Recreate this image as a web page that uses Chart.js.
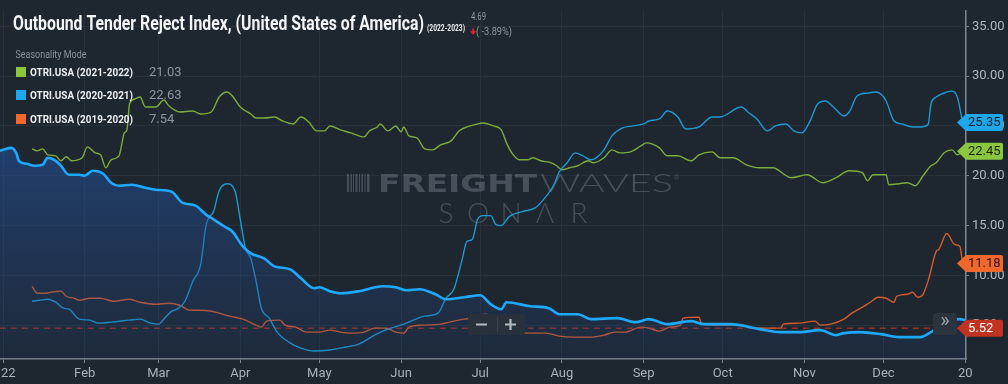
<!DOCTYPE html>
<html>
<head>
<meta charset="utf-8">
<script src="https://cdn.jsdelivr.net/npm/chart.js@4.4.0/dist/chart.umd.min.js"></script>
<style>
  html, body { margin: 0; padding: 0; background: #1e2630; }
  #wrap { width: 1008px; height: 384px; }
</style>
</head>
<body>
<div id="wrap"><canvas id="myChart" width="1008" height="384"></canvas></div>
<script>
// day of year (0 = Jan 1) -> index value
const mainDays = [-1.2, 3, 5, 6, 9, 12, 15, 17, 20, 22, 25, 29, 31, 34, 38, 41, 44, 49, 54, 58, 64, 68, 73, 77, 80, 84, 87, 91, 94, 99, 103, 109, 113, 118, 120, 124, 128, 135, 144, 149, 153, 158, 164, 168, 175, 181, 185, 189, 191, 200, 207, 211, 218, 223, 233, 240, 245, 252, 261, 266, 276, 287, 295, 302, 310, 316, 319, 325, 333, 340, 348, 352, 357, 363, 365];
const mainVals = [22.5, 22.8, 22.3, 21.5, 21.2, 21.0, 21.1, 21.8, 21.5, 21.0, 20.1, 20.1, 20.0, 20.5, 20.2, 19.3, 19.0, 19.1, 18.8, 18.6, 18.4, 17.3, 17.0, 16.1, 15.6, 14.9, 14.4, 12.9, 12.2, 11.7, 10.9, 10.6, 9.7, 8.7, 8.8, 8.4, 8.2, 8.4, 8.9, 8.8, 8.5, 8.6, 8.1, 7.6, 7.8, 8.0, 7.1, 6.6, 7.3, 6.9, 6.7, 6.1, 6.1, 5.6, 5.7, 5.3, 5.6, 5.1, 5.4, 5.1, 5.1, 4.6, 4.3, 4.3, 4.5, 4.0, 4.2, 4.3, 4.1, 3.8, 3.8, 4.3, 5.2, 5.6, 5.5];

const s2122Days = [11, 13, 15, 17, 20, 22, 24, 26, 30, 32, 35, 37, 39, 41, 44, 45, 46, 47, 48, 50, 52, 54, 56, 58, 61, 63, 67, 72, 75, 79, 82, 85, 87, 90, 94, 96, 99, 103, 106, 110, 113, 116, 119, 122, 124, 128, 132, 137, 139, 142, 143, 146, 149, 151, 152, 154, 157, 160, 163, 166, 170, 173, 176, 180, 182, 186, 189, 191, 193, 196, 199, 201, 204, 208, 210, 212, 215, 218, 222, 224, 228, 231, 234, 238, 242, 244, 249, 252, 256, 261, 264, 269, 272, 277, 282, 287, 292, 299, 305, 311, 316, 321, 326, 328, 330, 335, 336, 340, 343, 346, 349, 352, 354, 357, 360, 362, 364];
const s2122Vals = [22.7, 22.5, 22.7, 22.1, 22.0, 21.5, 21.9, 21.5, 21.8, 22.9, 22.3, 22.1, 20.8, 21.6, 22.0, 23.1, 24.3, 24.6, 27.2, 27.7, 27.9, 26.9, 26.9, 26.9, 27.6, 27.0, 26.4, 26.5, 26.2, 26.4, 27.9, 28.4, 28.0, 26.9, 26.2, 25.8, 25.8, 25.9, 25.5, 25.2, 25.9, 25.4, 24.5, 24.5, 25.0, 24.6, 24.3, 23.9, 24.5, 24.9, 25.2, 24.5, 25.0, 24.4, 24.9, 24.0, 23.8, 22.7, 22.6, 23.1, 23.5, 24.5, 24.9, 25.2, 25.3, 25.0, 24.6, 23.3, 22.3, 21.6, 21.6, 21.8, 21.5, 21.3, 21.0, 20.6, 20.8, 21.0, 21.5, 21.3, 21.8, 22.6, 22.3, 22.4, 23.0, 23.3, 22.8, 22.0, 22.0, 21.5, 22.1, 22.4, 21.8, 21.8, 21.1, 20.8, 20.8, 19.8, 20.1, 19.3, 19.8, 20.5, 20.3, 19.5, 20.1, 20.1, 19.1, 19.2, 19.3, 19.0, 20.0, 21.0, 21.3, 22.3, 22.6, 22.1, 22.45];

const s2021Days = [11, 14, 17, 20, 23, 25, 29, 33, 36, 41, 48, 52, 56, 59, 61, 64, 66, 69, 72, 75, 77, 80, 82, 85, 88, 90, 92, 94, 96, 98, 101, 104, 109, 113, 118, 124, 130, 135, 141, 145, 152, 160, 165, 168, 171, 174, 176, 178, 180, 182, 185, 187, 189, 192, 197, 202, 205, 209, 211, 214, 217, 220, 223, 225, 228, 231, 235, 239, 243, 245, 249, 252, 256, 259, 264, 269, 272, 280, 283, 286, 290, 293, 297, 300, 303, 306, 309, 312, 315, 319, 321, 324, 328, 331, 333, 335, 338, 341, 345, 348, 351, 352, 354, 358, 360, 362, 364];
const s2021Vals = [7.4, 7.5, 7.6, 7.3, 6.7, 6.6, 5.6, 5.5, 5.2, 5.3, 5.5, 5.6, 5.2, 5.1, 5.6, 6.4, 6.6, 7.4, 9.4, 11.1, 15.0, 16.5, 18.5, 19.2, 18.5, 15.6, 12.7, 11.7, 9.4, 6.7, 5.7, 4.3, 3.2, 2.7, 2.4, 2.5, 2.8, 3.1, 4.0, 4.5, 5.1, 5.9, 6.2, 7.7, 8.6, 11.4, 13.4, 13.6, 15.6, 16.0, 16.0, 15.1, 15.0, 15.9, 16.4, 16.8, 17.6, 19.1, 20.4, 21.3, 22.3, 22.0, 21.6, 21.8, 22.6, 24.0, 24.8, 25.0, 25.2, 25.5, 25.7, 26.5, 25.9, 24.7, 24.9, 25.9, 25.9, 26.9, 26.3, 25.7, 24.5, 25.0, 25.2, 24.5, 24.3, 25.4, 27.2, 27.5, 26.9, 26.0, 26.4, 28.0, 28.3, 28.4, 28.2, 27.5, 25.5, 25.2, 24.9, 24.9, 25.2, 27.2, 27.9, 28.4, 28.5, 27.9, 25.35];

const s1920Days = [11, 13, 16, 18, 22, 24, 27, 29, 33, 37, 42, 48, 52, 58, 63, 67, 71, 75, 79, 82, 86, 91, 96, 98, 100, 105, 107, 111, 115, 120, 124, 128, 132, 137, 141, 145, 149, 152, 154, 159, 166, 171, 175, 178, 183, 187, 192, 199, 206, 211, 217, 223, 228, 232, 236, 242, 245, 249, 253, 257, 258, 264, 265, 272, 280, 285, 291, 295, 296, 302, 308, 310, 314, 319, 322, 326, 329, 332, 335, 338, 339, 343, 345, 347, 349, 351, 354, 355, 358, 361, 363, 364];
const s1920Vals = [8.9, 8.2, 8.2, 8.3, 8.4, 7.9, 7.7, 7.5, 7.7, 7.7, 7.4, 7.6, 7.3, 7.1, 7.2, 7.0, 6.5, 6.5, 6.4, 6.2, 5.9, 5.6, 5.0, 4.8, 5.4, 5.5, 5.0, 4.8, 4.3, 4.3, 4.5, 4.3, 4.2, 4.3, 4.7, 4.7, 4.3, 4.2, 4.8, 5.0, 5.1, 5.4, 5.6, 5.7, 6.1, 5.6, 4.6, 4.2, 4.2, 3.9, 3.8, 3.8, 4.0, 4.3, 4.3, 4.8, 4.7, 4.4, 4.8, 5.0, 5.7, 5.8, 5.1, 5.0, 5.0, 4.7, 4.7, 4.7, 5.1, 5.2, 5.4, 5.0, 5.1, 5.6, 6.2, 6.8, 7.3, 7.8, 7.7, 7.3, 7.9, 8.1, 8.3, 7.8, 8.1, 9.5, 12.4, 12.6, 14.2, 13.1, 12.9, 11.18];

const tickDays = [0, 31, 59, 90, 120, 151, 181, 212, 243, 273, 304, 334, 365];
const tickLabels = ['22', 'Feb', 'Mar', 'Apr', 'May', 'Jun', 'Jul', 'Aug', 'Sep', 'Oct', 'Nov', 'Dec', '20'];
const yTicks = [5, 10, 15, 20, 25, 30, 35];

const legendNames = ['OTRI.USA (2021-2022)', 'OTRI.USA (2020-2021)', 'OTRI.USA (2019-2020)'];
const legendValues = ['21.03', '22.63', '7.54'];
const legendColors = ['#8cc63f', '#1ea7ea', '#f0682c'];

const lastValues = [25.35, 22.45, 11.18];   // 2020-21, 2021-22, 2019-20
const currentValue = 4.69;
const currentLabel = '5.52';

function pts(days, vals) {
  return days.map((d, i) => ({ x: d, y: vals[i] }));
}

// draw text squeezed into a given width
function fitText(ctx, text, x, y, w, font, color) {
  ctx.save();
  ctx.font = font;
  ctx.fillStyle = color;
  ctx.textAlign = 'left';
  ctx.textBaseline = 'alphabetic';
  let m = ctx.measureText(text).width;
  ctx.translate(x, y);
  ctx.scale(w / m, 1);
  ctx.fillText(text, 0, 0);
  ctx.restore();
}

function roundRect(ctx, x, y, w, h, r) {
  ctx.beginPath();
  ctx.moveTo(x + r, y);
  ctx.lineTo(x + w - r, y);
  ctx.quadraticCurveTo(x + w, y, x + w, y + r);
  ctx.lineTo(x + w, y + h - r);
  ctx.quadraticCurveTo(x + w, y + h, x + w - r, y + h);
  ctx.lineTo(x + r, y + h);
  ctx.quadraticCurveTo(x, y + h, x, y + h - r);
  ctx.lineTo(x, y + r);
  ctx.quadraticCurveTo(x, y, x + r, y);
  ctx.closePath();
}

function valueTag(ctx, y, bg, text, fg) {
  ctx.save();
  ctx.fillStyle = bg;
  ctx.beginPath();
  ctx.moveTo(957, y);
  ctx.lineTo(966, y - 8.5);
  ctx.lineTo(1001, y - 8.5);
  ctx.quadraticCurveTo(1003, y - 8.5, 1003, y - 6.5);
  ctx.lineTo(1003, y + 6.5);
  ctx.quadraticCurveTo(1003, y + 8.5, 1001, y + 8.5);
  ctx.lineTo(966, y + 8.5);
  ctx.closePath();
  ctx.fill();
  ctx.fillStyle = fg;
  ctx.font = '13px Roboto';
  ctx.textAlign = 'left';
  ctx.textBaseline = 'middle';
  ctx.fillText(text, 968, y + 0.5);
  ctx.restore();
}

const bgPlugin = {
  id: 'bg',
  beforeDraw(chart) {
    let ctx = chart.ctx;
    ctx.save();
    ctx.fillStyle = '#1e2630';
    ctx.fillRect(0, 0, chart.width, chart.height);
    ctx.restore();
  }
};

const watermarkPlugin = {
  id: 'watermark',
  beforeDatasetsDraw(chart) {
    let ctx = chart.ctx;
    let col = 'rgba(128,138,150,0.42)';
    ctx.save();
    ctx.fillStyle = col;
    // little barcode mark
    let bars = [[347, 2], [350.5, 1.5], [353, 1], [355.5, 2], [359, 1], [361.5, 1.5], [364.5, 1], [367, 2.5]];
    bars.forEach(b => ctx.fillRect(b[0], 174, b[1], 18));
    ctx.restore();
    fitText(ctx, 'FREIGHT', 378, 192, 159, 'bold 25px "DejaVu Sans"', col);
    fitText(ctx, 'WAVES', 540, 192, 133, '300 25px Lato', col);
    fitText(ctx, '®', 674, 180, 5, '7px Roboto', col);
    let letters = ['S', 'O', 'N', 'Λ', 'R'];
    let lx = [446, 478, 511, 545, 579];
    ctx.save();
    ctx.fillStyle = col;
    ctx.font = '300 28px Lato';
    ctx.textAlign = 'center';
    ctx.textBaseline = 'alphabetic';
    letters.forEach((l, i) => ctx.fillText(l, lx[i], 223));
    ctx.restore();
  }
};

const overlayPlugin = {
  id: 'overlay',
  afterDraw(chart) {
    let ctx = chart.ctx;
    let xs = chart.scales.x;
    let ys = chart.scales.y;

    // x axis labels
    ctx.save();
    ctx.font = '13px Roboto';
    ctx.fillStyle = '#a9b1ba';
    ctx.textBaseline = 'middle';
    tickDays.forEach((d, i) => {
      let px = xs.getPixelForValue(d);
      if (i === 0) {
        ctx.textAlign = 'left';
        ctx.fillText(tickLabels[i], 1, 374);
      } else {
        ctx.textAlign = 'center';
        ctx.fillText(tickLabels[i], px, 374);
      }
    });
    ctx.restore();

    // zoom buttons
    ctx.save();
    ctx.fillStyle = '#29323c';
    roundRect(ctx, 468, 314, 57, 21, 3);
    ctx.fill();
    ctx.strokeStyle = '#3a434e';
    ctx.lineWidth = 1;
    ctx.beginPath();
    ctx.moveTo(497.5, 317);
    ctx.lineTo(497.5, 332);
    ctx.stroke();
    ctx.strokeStyle = '#b3b9c0';
    ctx.lineWidth = 2.2;
    ctx.beginPath();
    ctx.moveTo(476, 324.5);
    ctx.lineTo(487, 324.5);
    ctx.moveTo(505, 324.5);
    ctx.lineTo(516, 324.5);
    ctx.moveTo(510.5, 319);
    ctx.lineTo(510.5, 330);
    ctx.stroke();
    ctx.fillStyle = '#2a333e';
    roundRect(ctx, 933, 313, 24, 22, 3);
    ctx.fill();
    ctx.fillStyle = '#9ba3ac';
    ctx.font = '20px Roboto';
    ctx.textAlign = 'center';
    ctx.textBaseline = 'middle';
    ctx.fillText('»', 945, 322);
    ctx.restore();

    // last value tags
    valueTag(ctx, ys.getPixelForValue(lastValues[0]), '#1ea7ea', lastValues[0].toFixed(2), '#0f1d2a');
    valueTag(ctx, ys.getPixelForValue(lastValues[1]), '#8cc63f', lastValues[1].toFixed(2), '#17240e');
    valueTag(ctx, ys.getPixelForValue(lastValues[2]), '#f0682c', lastValues[2].toFixed(2), '#2a130a');
    valueTag(ctx, ys.getPixelForValue(currentValue), '#c13320', currentLabel, '#ffffff');

    // title
    fitText(ctx, 'Outbound Tender Reject Index, (United States of America)', 13, 30, 411, 'bold 21px Roboto', '#f2f4f6');
    fitText(ctx, '(2022-2023)', 427, 31, 38, 'bold 9px Roboto', '#e6e9ec');
    fitText(ctx, currentValue.toFixed(2), 471, 20, 15, '11px Roboto', '#8f98a2');
    fitText(ctx, '( -3.89%)', 476, 35, 36, '11px Roboto', '#8f98a2');
    ctx.save();
    ctx.fillStyle = '#e5232f';
    ctx.fillRect(472.3, 28.5, 1.6, 3);
    ctx.beginPath();
    ctx.moveTo(470.2, 31);
    ctx.lineTo(476, 31);
    ctx.lineTo(473.1, 35);
    ctx.closePath();
    ctx.fill();
    ctx.restore();

    // legend
    fitText(ctx, 'Seasonality Mode', 15.5, 58, 71, '10px Roboto', '#8b949e');
    let rowsY = [72, 95, 119];
    legendNames.forEach((n, i) => {
      let cy = rowsY[i];
      ctx.save();
      ctx.fillStyle = legendColors[i];
      ctx.fillRect(16, cy - 5, 10, 10);
      ctx.restore();
      fitText(ctx, n, 30, cy + 4, 103, 'bold 10.5px Roboto', '#eef0f2');
      ctx.save();
      ctx.font = '13px Roboto';
      ctx.fillStyle = '#8d96a0';
      ctx.textBaseline = 'middle';
      ctx.fillText(legendValues[i], 149, cy + 0.5);
      ctx.restore();
    });
  }
};

let myChart = document.getElementById('myChart').getContext('2d');
let newChart = new Chart(myChart, {
  type: 'line',
  data: {
    datasets: [{
      label: 'OTRI.USA (2022-2023)',
      data: pts(mainDays, mainVals),
      borderColor: '#1ca9ff',
      borderWidth: 2.6,
      fill: 'start',
      backgroundColor: function (c) {
        let a = c.chart.chartArea;
        if (!a) return 'transparent';
        let g = c.chart.ctx.createLinearGradient(0, 140, 0, a.bottom);
        g.addColorStop(0, 'rgba(34,84,160,0.58)');
        g.addColorStop(1, 'rgba(34,70,130,0.14)');
        return g;
      },
      order: 0
    }, {
      label: legendNames[0],
      data: pts(s2122Days, s2122Vals),
      borderColor: '#7dac3a',
      borderWidth: 1.4,
      order: 2
    }, {
      label: legendNames[1],
      data: pts(s2021Days, s2021Vals),
      borderColor: '#1e99d3',
      borderWidth: 1.4,
      order: 1
    }, {
      label: legendNames[2],
      data: pts(s1920Days, s1920Vals),
      borderColor: '#d45b2b',
      borderWidth: 1.4,
      order: 3
    }, {
      label: 'current',
      data: [{ x: -1.2, y: currentValue }, { x: 366, y: currentValue }],
      borderColor: '#92302a',
      borderWidth: 1.5,
      borderDash: [6, 5],
      order: 4
    }]
  },
  options: {
    responsive: false,
    animation: false,
    devicePixelRatio: 1,
    layout: { padding: { top: 5, left: 0, right: 0, bottom: 0 } },
    elements: {
      point: { radius: 0, hoverRadius: 0 },
      line: { cubicInterpolationMode: 'monotone' }
    },
    plugins: {
      legend: { display: false },
      tooltip: { enabled: false }
    },
    scales: {
      x: {
        type: 'linear',
        min: -1.14,
        max: 365.3,
        afterBuildTicks: s => { s.ticks = tickDays.map(v => ({ value: v })); },
        afterFit: s => { s.height = 25; },
        ticks: { display: false },
        grid: { color: '#28313c', tickLength: 4, tickColor: '#7d8691' },
        border: { color: '#7d8691', width: 1.5 }
      },
      y: {
        position: 'right',
        min: 1.6,
        max: 36.56,
        afterBuildTicks: s => { s.ticks = yTicks.map(v => ({ value: v })); },
        afterFit: s => { s.width = 42; },
        ticks: {
          color: '#aeb6bf',
          font: { family: 'Roboto', size: 13 },
          padding: 3,
          callback: v => v.toFixed(2)
        },
        grid: { color: '#28313c', tickLength: 3, tickColor: '#7d8691' },
        border: { color: '#7d8691', width: 1.5 }
      }
    }
  },
  plugins: [bgPlugin, watermarkPlugin, overlayPlugin]
});
</script>
</body>
</html>
